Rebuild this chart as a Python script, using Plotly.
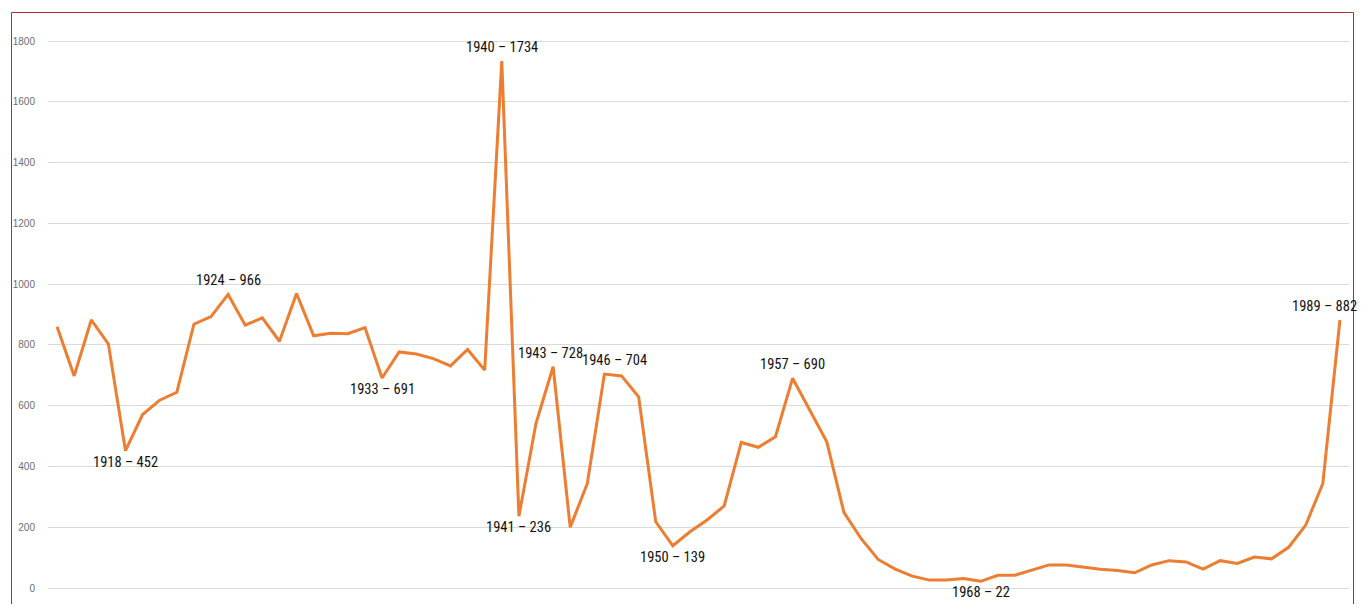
import plotly.graph_objects as go

years = list(range(1914, 1990))
values = [860, 698, 882, 803, 452, 571, 618, 644, 868, 893,
          966, 865, 889, 812, 969, 830, 838, 837, 857, 691,
          777, 770, 755, 731, 785, 717, 1734, 236, 542, 728,
          200, 344, 704, 698, 629, 218, 139, 185, 224, 270,
          479, 463, 498, 690, 586, 481, 249, 163, 94, 62,
          39, 26, 26, 31, 22, 42, 42, 59, 76, 76,
          69, 62, 58, 50, 76, 90, 86, 62, 90, 81,
          102, 96, 134, 207, 344, 882]

label_years = [1918, 1924, 1933, 1940, 1941, 1943, 1946, 1950, 1957, 1968, 1989]
label_pos = ["below", "above", "below", "above", "below", "above", "above", "below", "above", "below", "above"]
label_dx = [0, 0, 0, 0, 0, -3, 10, 0, 0, 0, -15]

y_ticks = [0, 200, 400, 600, 800, 1000, 1200, 1400, 1600, 1800]

fig = go.Figure()
fig.add_trace(go.Scatter(
    x=years, y=values, mode="lines",
    line=dict(color="#ED7D31", width=3),
    hoverinfo="x+y", showlegend=False,
))

label_font = dict(family="Roboto Condensed, Liberation Sans Narrow, Arial Narrow, Liberation Sans, Arial", size=14.5, color="#111111")
for yr, pos, dx in zip(label_years, label_pos, label_dx):
    v = values[years.index(yr)]
    fig.add_annotation(
        x=yr, y=v, text=f"{yr} \u2013 {v}", showarrow=False,
        xanchor="center", yanchor="bottom" if pos == "above" else "top",
        yshift=3 if pos == "above" else -1, xshift=dx,
        font=label_font,
    )

# outer red frame (bottom edge cropped off the picture)
fig.add_shape(
    type="path", xref="paper", yref="paper",
    path="M -0.028055,-0.05 L -0.028055,1.012842 L 1.003459,1.012842 L 1.003459,-0.05",
    line=dict(color="#A83232", width=1), layer="above",
)

fig.update_layout(
    width=1354, height=596,
    margin=dict(l=40, r=13, t=12, b=0),
    paper_bgcolor="white", plot_bgcolor="white",
    xaxis=dict(range=[1913.47, 1989.53], showticklabels=False, showgrid=False,
               zeroline=False, showline=False, ticks=""),
    yaxis=dict(range=[-52.6, 1869.1], tickvals=y_ticks, showgrid=True,
               gridcolor="#DADADA", gridwidth=1, zeroline=False, showline=False,
               ticks="", ticklabelstandoff=12,
               tickfont=dict(family="Liberation Sans, Arial", size=10, color="#6E6E6E")),
)

fig.write_html("out.html")
